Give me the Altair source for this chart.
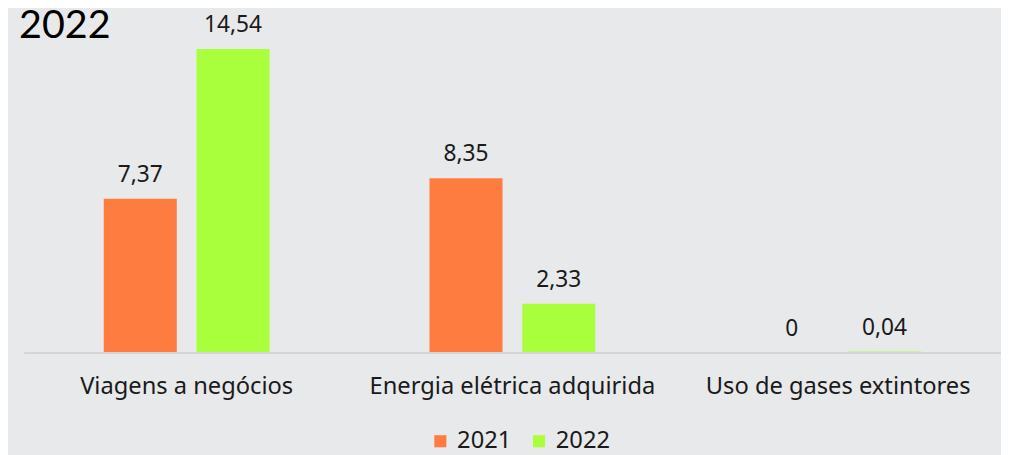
import altair as alt
import pandas as pd

title_text = "n 2022"
categories = ["Viagens a negócios", "Energia elétrica adquirida", "Uso de gases extintores"]
years = ["2021", "2022"]
values_2021 = [7.37, 8.35, 0.0]
values_2022 = [14.54, 2.33, 0.04]
labels_2021 = ["7,37", "8,35", "0"]
labels_2022 = ["14,54", "2,33", "0,04"]
colors = ["#FF7C40", "#AAFF3C"]

rows = []
for c, v, l in zip(categories, values_2021, labels_2021):
    rows.append(dict(cat=c, year="2021", value=v, label=l))
for c, v, l in zip(categories, values_2022, labels_2022):
    rows.append(dict(cat=c, year="2022", value=v, label=l))
df = pd.DataFrame(rows)

FONT = "Noto Sans"

x = alt.X(
    "cat:N", sort=categories, title=None,
    scale=alt.Scale(paddingInner=0.491, paddingOuter=0.2455),
    axis=alt.Axis(labelAngle=0, labelFontSize=24, labelFont=FONT, labelColor="#1a1a1a", labelLimit=0,
                  ticks=False, domainColor="#d4d5d7", domainWidth=2, labelPadding=23, zindex=1),
)
xo = alt.XOffset("year:N", sort=years, scale=alt.Scale(paddingInner=0.2128, paddingOuter=0))
y = alt.Y("value:Q", scale=alt.Scale(domain=[0, 15.8]), axis=None)

base = alt.Chart(df)
bars = base.mark_bar().encode(
    x=x, xOffset=xo, y=y,
    color=alt.Color(
        "year:N", sort=years,
        scale=alt.Scale(domain=years, range=colors),
        legend=alt.Legend(orient="none", legendX=410, legendY=412, direction="horizontal",
                          title=None, symbolType="square", symbolSize=150, symbolStrokeWidth=0,
                          labelFontSize=24, labelFont=FONT, labelColor="#1a1a1a",
                          columnPadding=16, labelOffset=5),
    ),
)
text = base.mark_text(baseline="alphabetic", dy=-17, fontSize=23, font=FONT, color="#1a1a1a").encode(
    x=x, xOffset=xo, y=y, text="label:N"
)
title = alt.Chart(pd.DataFrame({"t": [title_text]})).mark_text(
    align="right", baseline="alphabetic", fontSize=40, font="Lato", color="#000000"
).encode(x=alt.value(88), y=alt.value(15), text="t:N")

chart = alt.layer(bars, text, title).properties(
    width=990, height=334, autosize="none",
    padding={"left": 16, "top": 12, "right": 0, "bottom": 102},
    background="#E8E9EB",
).configure_view(stroke=None)

chart.save("out.html", embed_options={"renderer": "svg", "actions": False})
